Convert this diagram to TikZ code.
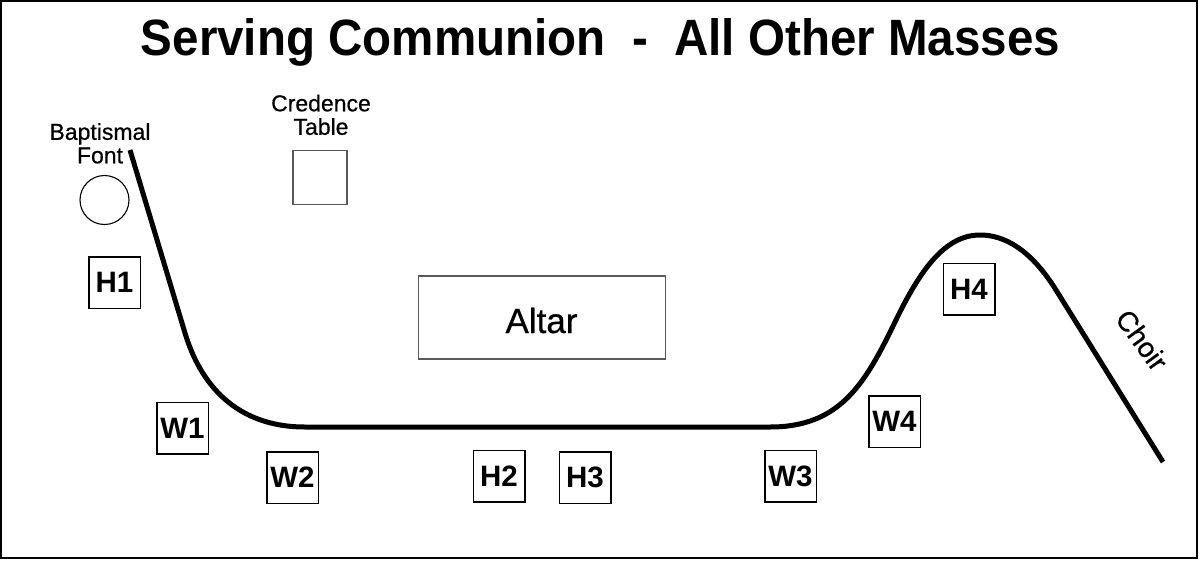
\documentclass[tikz,border=0pt]{standalone}
\usepackage{fontspec}
\setmainfont{Liberation Sans}
\newfontfamily\medfont[FakeBold=0.6]{Liberation Sans}
\usepackage{graphicx}
\tikzset{
  posbox/.style={draw=black, line width=1.5pt, minimum width=51.5pt, minimum height=51.5pt, inner sep=0pt, font=\fontsize{29.5}{30}\selectfont\bfseries},
  label2/.style={align=center, inner sep=0pt, text depth=0pt, anchor=south, font=\medfont\fontsize{23}{23.5}\selectfont},
  grayline/.style={draw=black!65, line width=1.1pt},
  pathline/.style={line width=5pt, line cap=butt, line join=round}
}
\begin{document}
\begin{tikzpicture}[x=1pt, y=-1pt]
\useasboundingbox (0,0) rectangle (1200,560);
\fill[white] (0,0) rectangle (1200,560);
\draw[line width=2pt] (1,1) rectangle (1197,558);

% title
\node[anchor=base, inner sep=0pt] (title) at (600.5,55)
  {\resizebox{919pt}{37pt}{\bfseries Serving Communion\ \ -\ \ All Other Masses}};

% labels
\node[label2] (font) at (100,163.5) {Baptismal\\Font};
\node[label2] (cred) at (321,135) {Credence\\Table};

% baptismal font and credence table
\node[draw=black, line width=1.1pt, circle, minimum size=49pt, inner sep=0pt] (bowl) at (104.5,200) {};
\node[grayline, minimum width=54pt, minimum height=53.5pt, inner sep=0pt] (table) at (320,177.5) {};

% altar
\node[grayline, minimum width=247pt, minimum height=83pt, inner sep=0pt] (altar) at (542,317.5) {};
\node[anchor=base, inner sep=0pt, font=\medfont\fontsize{35}{36}\selectfont] (altartext) at (541.5,333) {Altar};

% positions
\node[posbox] (H1) at (114.5,282.5) {H1};
\node[posbox] (W1) at (182.5,428) {W1};
\node[posbox] (W2) at (292.5,477.5) {W2};
\node[posbox] (H2) at (499,476) {H2};
\node[posbox] (H3) at (585,477.5) {H3};
\node[posbox] (W3) at (790.5,476) {W3};
\node[posbox] (W4) at (894.5,421.7) {W4};
\node[posbox] (H4) at (969,289) {H4};

% choir label
\node[rotate=-54, inner sep=0pt, font=\medfont\fontsize{28}{29}\selectfont] (choir) at (1142,340) {Choir};

% procession path
\draw[pathline] (130,150) -- (185,333)
  .. controls (200,383) and (235,427) .. (305,427)
  -- (770,427)
  .. controls (840,427) and (865,384) .. (895,322)
  .. controls (920,270) and (945,235) .. (980,235)
  .. controls (1005,235) and (1031,250) .. (1056,290)
  -- (1163,462);
\end{tikzpicture}
\end{document}
